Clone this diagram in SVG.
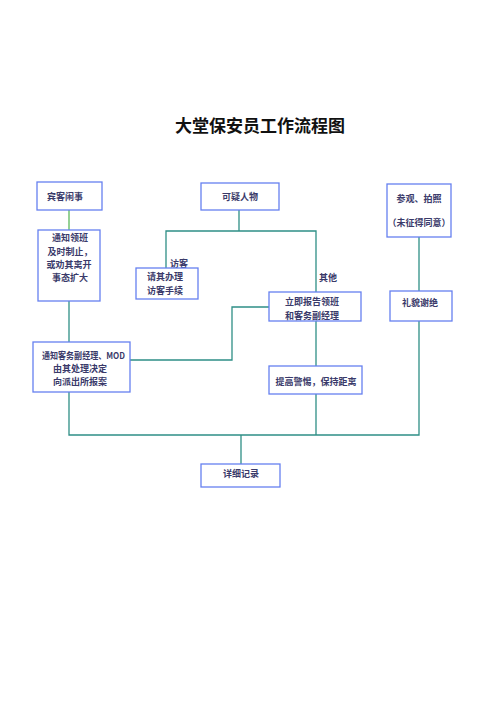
<svg xmlns="http://www.w3.org/2000/svg" width="500" height="707" viewBox="0 0 500 707">
<style>
.box{fill:#ffffff;stroke:#6680f0;stroke-width:1.3}
.t{font-family:"Noto Sans CJK SC","Noto Sans",sans-serif;font-size:9px;fill:#3a3a6a;font-weight:bold}
.c{stroke:#2e8f86;stroke-width:1.3;fill:none}
.g{stroke:#5cb85c;stroke-width:1.3;fill:none}
.title{font-family:"Noto Sans CJK SC",sans-serif;font-size:17px;fill:#111;font-weight:bold}
</style>
<rect width="500" height="707" fill="#ffffff"/>
<text class="title" x="260" y="132" text-anchor="middle">大堂保安员工作流程图</text>
<g id="connectors">
<path class="g" d="M69 210V230"/>
<path class="c" d="M69 301V342"/>
<path class="c" d="M239 210V231M166 268V231H316V292"/>
<path class="c" d="M269 307H232V360H130"/>
<path class="c" d="M316 321V366"/>
<path class="c" d="M419 237V291"/>
<path class="c" d="M69 392V435H419V321M316 394V435M241 435V464"/>
</g>
<text class="t" x="170" y="267">访客</text>
<text class="t" x="319" y="281">其他</text>
<g id="n1"><rect class="box" x="37" y="182" width="65" height="28"/><text class="t" x="65" y="200" text-anchor="middle">宾客闹事</text></g>
<g id="n2"><rect class="box" x="38" y="230" width="62" height="71"/>
<text class="t" x="70" y="241" text-anchor="middle">通知领班</text>
<text class="t" x="70" y="255" text-anchor="middle">及时制止，</text>
<text class="t" x="69" y="268" text-anchor="middle">或劝其离开</text>
<text class="t" x="70" y="281" text-anchor="middle">事态扩大</text></g>
<g id="n3"><rect class="box" x="201" y="183" width="78" height="27"/><text class="t" x="240" y="200" text-anchor="middle">可疑人物</text></g>
<g id="n4"><rect class="box" x="387" y="184" width="64" height="53"/>
<text class="t" x="419" y="202" text-anchor="middle">参观、拍照</text>
<text class="t" x="419" y="226" text-anchor="middle">（未征得同意）</text></g>
<g id="n5"><rect class="box" x="136" y="268" width="62" height="31"/>
<text class="t" x="165" y="280" text-anchor="middle">请其办理</text>
<text class="t" x="165" y="294" text-anchor="middle">访客手续</text></g>
<g id="n6"><rect class="box" x="269" y="292" width="92" height="29"/>
<text class="t" x="312" y="305" text-anchor="middle">立即报告领班</text>
<text class="t" x="312" y="319" text-anchor="middle">和客务副经理</text></g>
<g id="n7"><rect class="box" x="390" y="291" width="62" height="30"/><text class="t" x="420" y="306" text-anchor="middle">礼貌谢绝</text></g>
<g id="n8"><rect class="box" x="33" y="342" width="97" height="50"/>
<text class="t" x="42" y="359" textLength="83" lengthAdjust="spacingAndGlyphs">通知客务副经理、MOD</text>
<text class="t" x="80" y="372" text-anchor="middle">由其处理决定</text>
<text class="t" x="80" y="385" text-anchor="middle">向派出所报案</text></g>
<g id="n9"><rect class="box" x="269" y="366" width="93" height="28"/><text class="t" x="316" y="385" text-anchor="middle">提高警惕，保持距离</text></g>
<g id="n10"><rect class="box" x="201" y="464" width="79" height="23"/><text class="t" x="241" y="477" text-anchor="middle">详细记录</text></g>
</svg>
